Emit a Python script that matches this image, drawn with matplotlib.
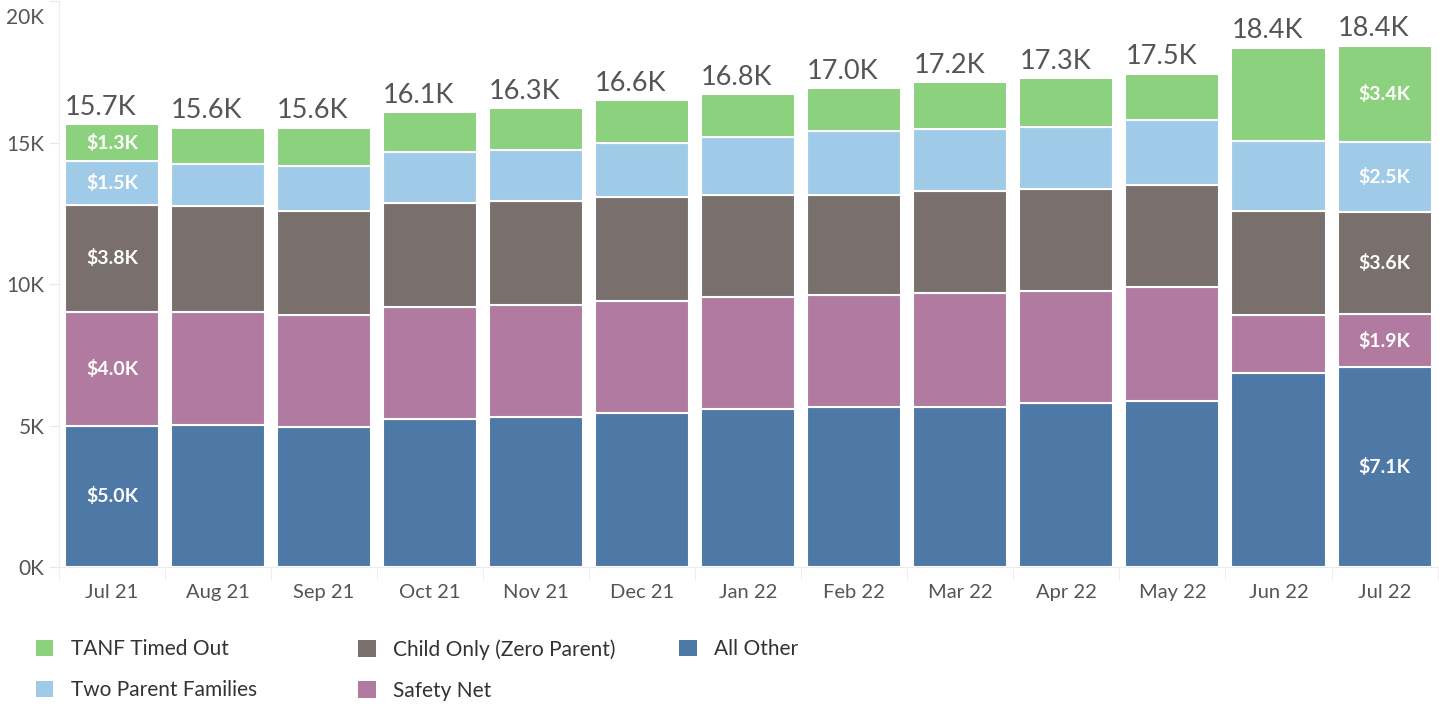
import matplotlib.pyplot as plt
import numpy as np
from matplotlib.patches import Patch

plt.rcParams["font.family"] = ["Lato", "DejaVu Sans"]

months = ["Jul 21", "Aug 21", "Sep 21", "Oct 21", "Nov 21", "Dec 21", "Jan 22",
          "Feb 22", "Mar 22", "Apr 22", "May 22", "Jun 22", "Jul 22"]

# values in thousands, stacked bottom to top
all_other = [5.00, 5.03, 4.96, 5.25, 5.31, 5.45, 5.59, 5.66, 5.66, 5.80, 5.88, 6.87, 7.06]
safety_net = [4.02, 3.98, 3.96, 3.95, 3.96, 3.97, 3.96, 3.96, 4.03, 3.96, 4.02, 2.05, 1.90]
child_only = [3.80, 3.75, 3.68, 3.68, 3.68, 3.67, 3.61, 3.54, 3.61, 3.61, 3.62, 3.68, 3.60]
two_parent = [1.54, 1.50, 1.57, 1.79, 1.79, 1.92, 2.05, 2.27, 2.19, 2.19, 2.28, 2.48, 2.48]
tanf_timed_out = [1.30, 1.28, 1.37, 1.42, 1.50, 1.51, 1.52, 1.51, 1.67, 1.74, 1.65, 3.29, 3.40]
totals = [15.7, 15.6, 15.6, 16.1, 16.3, 16.6, 16.8, 17.0, 17.2, 17.3, 17.5, 18.4, 18.4]
y_ticks = [0, 5, 10, 15, 20]
y_labels = ["0K", "5K", "10K", "15K", "20K"]

series = [
    ("All Other", all_other, "#4E79A7"),
    ("Safety Net", safety_net, "#B07AA1"),
    ("Child Only (Zero Parent)", child_only, "#79706E"),
    ("Two Parent Families", two_parent, "#A0CBE8"),
    ("TANF Timed Out", tanf_timed_out, "#8CD17D"),
]
labelled = [0, len(months) - 1]  # bars with segment labels

fig = plt.figure(figsize=(14.39, 7.09), dpi=100)
ax = fig.add_axes([0.041, 0.2, 0.958, 0.798])

x = np.arange(len(months))
width = 0.887
bottom = np.zeros(len(months))
handles = {}
for name, vals, color in series:
    vals = np.array(vals)
    ax.bar(x, vals, width, bottom=bottom, color=color,
           edgecolor="white", linewidth=1.5)
    handles[name] = Patch(facecolor=color)
    for i in labelled:
        ax.text(x[i], bottom[i] + vals[i] / 2, f"${vals[i]:.1f}K",
                ha="center", va="center", color="white",
                fontsize=14, fontweight="bold")
    bottom += vals

for i in range(len(months)):
    ax.annotate(f"{totals[i]:.1f}K", (x[i] - width / 2, bottom[i]),
                xytext=(0, 3), textcoords="offset points",
                ha="left", va="bottom", fontsize=19.5, color="#555555")

ax.set_xlim(-0.5, len(months) - 0.5)
ax.set_ylim(0, 20)
ax.set_yticks(y_ticks)
# top label sits below its tick so it stays inside the picture
ax.set_yticklabels(y_labels[:-1] + [""])
ax.annotate(y_labels[-1], (0, y_ticks[-1]), xycoords=("axes fraction", "data"),
            xytext=(-10.5, -12), textcoords="offset points",
            ha="right", va="center", fontsize=15, color="#555555")
ax.set_xticks(x)
ax.set_xticklabels(months)
ax.set_xticks(np.arange(len(months) + 1) - 0.5, minor=True)

ax.tick_params(axis="y", length=7.2, color="#e8e8e8", labelsize=15,
               labelcolor="#555555", pad=3.3)
ax.tick_params(axis="x", which="major", length=0, labelsize=14.5,
               labelcolor="#555555", pad=12)
ax.tick_params(axis="x", which="minor", length=9, color="#ececec")

for s in ["top", "right"]:
    ax.spines[s].set_visible(False)
ax.spines["left"].set_color("#ececec")
ax.spines["bottom"].set_color("#ececec")

# legend, laid out in three columns like the original
legend_cols = [
    (["TANF Timed Out", "Two Parent Families"], 0.019),
    (["Child Only (Zero Parent)", "Safety Net"], 0.243),
    (["All Other"], 0.466),
]
for names, xpos in legend_cols:
    fig.legend([handles[n] for n in names], names, loc="upper left",
               bbox_to_anchor=(xpos, 0.11), frameon=False, fontsize=15,
               handlelength=0.85, handleheight=0.85, handletextpad=0.85,
               labelspacing=1.0, labelcolor="#333333", borderaxespad=0)

plt.savefig("out.png", dpi=100)
plt.close()
